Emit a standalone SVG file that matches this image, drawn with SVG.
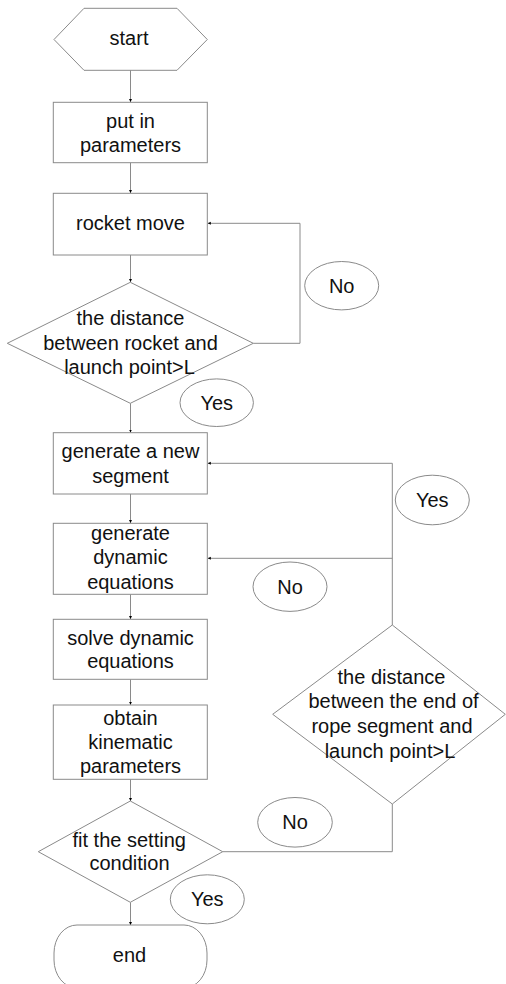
<svg xmlns="http://www.w3.org/2000/svg" width="506" height="984" viewBox="0 0 506 984">
<style>
.s{fill:#fff;stroke:#8a8a8a;stroke-width:1}
.c{fill:none;stroke:#8a8a8a;stroke-width:1}
.t{font-family:"Liberation Sans",Arial,sans-serif;font-size:20px;fill:#111;text-anchor:middle}
</style>
<defs>
<marker id="a" markerWidth="4" markerHeight="4" refX="3" refY="2" orient="auto" markerUnits="userSpaceOnUse">
<path d="M0,0.5 L3,2 L0,3.5 Z" fill="#000"/>
</marker>
</defs>
<rect width="506" height="984" fill="#fff"/>
<g id="connectors">
<path class="c" d="M130.5,70 V102" marker-end="url(#a)"/>
<path class="c" d="M130.5,162.7 V193" marker-end="url(#a)"/>
<path class="c" d="M130.5,255 V282" marker-end="url(#a)"/>
<path class="c" d="M253.3,343.3 H300 V223.3 H207.8" marker-end="url(#a)"/>
<path class="c" d="M130.5,403.3 V432.5" marker-end="url(#a)"/>
<path class="c" d="M130.5,494 V523" marker-end="url(#a)"/>
<path class="c" d="M130.5,594.3 V619" marker-end="url(#a)"/>
<path class="c" d="M130.5,679.3 V704.8" marker-end="url(#a)"/>
<path class="c" d="M130.5,779.3 V801" marker-end="url(#a)"/>
<path class="c" d="M392.3,625 V463.3 H207.8" marker-end="url(#a)"/>
<path class="c" d="M392.3,558.3 H207.8" marker-end="url(#a)"/>
<path class="c" d="M222.7,851.7 H392.3 V804"/>
<path class="c" d="M130.5,902.3 V925" marker-end="url(#a)"/>
</g>
<g id="start">
<polygon class="s" points="54,39.5 84,8.3 177,8.3 207.3,39.5 177,70.3 84,70.3"/>
<text class="t" x="129" y="45">start</text>
</g>
<g id="put-in">
<rect class="s" x="53.3" y="102.3" width="154" height="60.4"/>
<text class="t" x="130.5" y="128.3">put in</text>
<text class="t" x="130.5" y="152.3">parameters</text>
</g>
<g id="rocket-move">
<rect class="s" x="53.3" y="193.3" width="154" height="61.7"/>
<text class="t" x="130.5" y="230">rocket move</text>
</g>
<g id="decision1">
<polygon class="s" points="130.3,282.3 253.3,343.3 130.3,403.3 7.3,343.3"/>
<text class="t" x="130.5" y="325">the distance</text>
<text class="t" x="130.5" y="349.5">between rocket and</text>
<text class="t" x="129.5" y="374.3">launch point&gt;L</text>
</g>
<g id="label-no1">
<ellipse class="s" cx="341.7" cy="285.7" rx="37" ry="24.2"/>
<text class="t" x="341.7" y="292.5">No</text>
</g>
<g id="label-yes1">
<ellipse class="s" cx="216.7" cy="402.7" rx="36.7" ry="23.8"/>
<text class="t" x="216.7" y="409.5">Yes</text>
</g>
<g id="generate-segment">
<rect class="s" x="53.3" y="432.7" width="154" height="61.3"/>
<text class="t" x="130.5" y="458.3">generate a new</text>
<text class="t" x="130.5" y="482.7">segment</text>
</g>
<g id="generate-equations">
<rect class="s" x="53.3" y="523.3" width="154" height="71"/>
<text class="t" x="130.5" y="540">generate</text>
<text class="t" x="130.5" y="564.3">dynamic</text>
<text class="t" x="130.5" y="589">equations</text>
</g>
<g id="label-yes2">
<ellipse class="s" cx="432.3" cy="500" rx="37" ry="24.8"/>
<text class="t" x="432.3" y="507">Yes</text>
</g>
<g id="label-no2">
<ellipse class="s" cx="290" cy="586.7" rx="37" ry="24.7"/>
<text class="t" x="290" y="593.5">No</text>
</g>
<g id="solve">
<rect class="s" x="53.3" y="619.3" width="154" height="60"/>
<text class="t" x="130.5" y="645">solve dynamic</text>
<text class="t" x="130.5" y="668.3">equations</text>
</g>
<g id="obtain">
<rect class="s" x="53.3" y="705" width="154" height="74.3"/>
<text class="t" x="130.5" y="725">obtain</text>
<text class="t" x="130.5" y="749">kinematic</text>
<text class="t" x="130.5" y="773.3">parameters</text>
</g>
<g id="decision2">
<polygon class="s" points="392.3,625 505.3,714.3 392.3,804 272.7,714.3"/>
<text class="t" x="391.5" y="684">the distance</text>
<text class="t" x="393.5" y="708.3">between the end of</text>
<text class="t" x="392" y="733.3">rope segment and</text>
<text class="t" x="390" y="758.3">launch point&gt;L</text>
</g>
<g id="decision3">
<polygon class="s" points="130.3,801 222.7,851.7 130.3,902.3 38.3,851.7"/>
<text class="t" x="129.2" y="846.7">fit the setting</text>
<text class="t" x="129.5" y="870">condition</text>
</g>
<g id="label-no3">
<ellipse class="s" cx="295" cy="822.3" rx="37.3" ry="24.8"/>
<text class="t" x="295" y="829">No</text>
</g>
<g id="label-yes3">
<ellipse class="s" cx="207.3" cy="899.3" rx="37" ry="24.5"/>
<text class="t" x="207.3" y="906">Yes</text>
</g>
<g id="end">
<rect class="s" x="54" y="925" width="153" height="63" rx="23" ry="28"/>
<text class="t" x="129.5" y="961.7">end</text>
</g>
</svg>
